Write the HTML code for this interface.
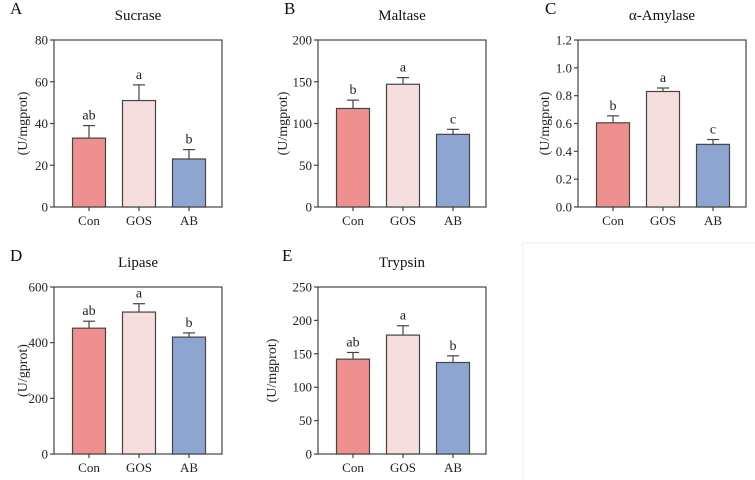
<!DOCTYPE html>
<html><head><meta charset="utf-8"><style>
html,body{margin:0;padding:0;background:#fff;}
svg{display:block;font-family:"Liberation Serif",serif;}
</style></head><body>
<svg id="c" width="755" height="480" viewBox="0 0 755 480" xmlns="http://www.w3.org/2000/svg">
<rect x="523" y="243" width="240" height="250" fill="none" stroke="#eeeeee" stroke-width="1"/>
</svg>
<script>
const categories = ["Con","GOS","AB"];
const sucraseVals = [33, 51, 23];
const sucraseErr = [6, 7.5, 4.5];
const sucraseSig = ["ab","a","b"];
const maltaseVals = [118, 147, 87];
const maltaseErr = [10, 8, 6];
const maltaseSig = ["b","a","c"];
const amylaseVals = [0.605, 0.83, 0.45];
const amylaseErr = [0.05, 0.025, 0.035];
const amylaseSig = ["b","a","c"];
const lipaseVals = [452, 510, 420];
const lipaseErr = [25, 30, 15];
const lipaseSig = ["ab","a","b"];
const trypsinVals = [142, 178, 137];
const trypsinErr = [10, 14, 10];
const trypsinSig = ["ab","a","b"];
const sucraseTicks = [0,20,40,60,80];
const maltaseTicks = [0,50,100,150,200];
const amylaseTicks = ["0.0","0.2","0.4","0.6","0.8","1.0","1.2"];
const lipaseTicks = [0,200,400,600];
const trypsinTicks = [0,50,100,150,200,250];

const NS="http://www.w3.org/2000/svg";
const svg=document.getElementById('c');
const colors=["#ef9090","#f6dede","#8fa5d1"];
function mk(tag,attrs,parent){const e=document.createElementNS(NS,tag);for(const k in attrs)e.setAttribute(k,attrs[k]);(parent||svg).appendChild(e);return e;}
function txt(s,attrs,parent){const e=mk('text',attrs,parent);e.textContent=s;return e;}

function panel(cfg){
  const g=mk('g',{});
  
  
  const L=cfg.x,T=cfg.y,W=168,H=167,B=T+H;
  const ticks=cfg.ticks.map(Number);
  const max=ticks[ticks.length-1];
  const ys=v=>B-v/max*H;
  const xs=i=>L+35+i*50;
  const lt=txt(cfg.letter,{x:cfg.lx,y:T-26,'font-size':17,fill:'#111'},g);
  
  
  const tt=txt(cfg.title,{x:L+W/2,y:T-20,'font-size':15,'text-anchor':'middle',fill:'#111'},g);
  
  
  const fr=mk('rect',{x:L,y:T,width:W,height:H,fill:'none',stroke:'#444','stroke-width':1.2},g);
  
  
  cfg.ticks.forEach(t=>{
    const y=ys(Number(t));
    mk('line',{x1:L-4,x2:L,y1:y,y2:y,stroke:'#444','stroke-width':1.2},g);
    const tl=txt(String(t),{x:L-6,y:y+4.5,'font-size':13,'text-anchor':'end',fill:'#222'},g);
    
    
  });
  const yl=txt(cfg.ylabel,{x:0,y:0,'font-size':14,'text-anchor':'middle',fill:'#222',transform:`translate(${cfg.ylx},${T+H/2}) rotate(-90)`},g);
  
  
  categories.forEach((c,i)=>{
    const cx=xs(i),v=cfg.vals[i],e=cfg.err[i];
    const top=ys(v),et=ys(v+e);
    const ln=mk('line',{x1:cx,x2:cx,y1:top,y2:et,stroke:'#444','stroke-width':1.2},g);
    
    
    mk('line',{x1:cx-6,x2:cx+6,y1:et,y2:et,stroke:'#444','stroke-width':1.2},g);
    const r=mk('rect',{x:cx-16.5,y:top,width:33,height:B-top,fill:colors[i],stroke:'#444','stroke-width':1.2},g);
    
    
    const s=txt(cfg.sig[i],{x:cx,y:et-6,'font-size':14,'text-anchor':'middle',fill:'#222'},g);
    
    
    mk('line',{x1:cx,x2:cx,y1:B,y2:B+4,stroke:'#444','stroke-width':1.2},g);
    const xl=txt(c,{x:cx,y:B+18,'font-size':13,'text-anchor':'middle',fill:'#222'},g);
    
    
  });
}
panel({id:'sucrase',letter:'A',title:'Sucrase',x:54,y:40,lx:10,ylx:27,ylabel:'(U/mgprot)',ticks:sucraseTicks,vals:sucraseVals,err:sucraseErr,sig:sucraseSig});
panel({id:'maltase',letter:'B',title:'Maltase',x:318,y:40,lx:284,ylx:287,ylabel:'(U/mgprot)',ticks:maltaseTicks,vals:maltaseVals,err:maltaseErr,sig:maltaseSig});
panel({id:'amylase',letter:'C',title:'α-Amylase',x:578,y:40,lx:545,ylx:549,ylabel:'(U/mgprot)',ticks:amylaseTicks,vals:amylaseVals,err:amylaseErr,sig:amylaseSig});
panel({id:'lipase',letter:'D',title:'Lipase',x:54,y:287,lx:10,ylx:27,ylabel:'(U/gprot)',ticks:lipaseTicks,vals:lipaseVals,err:lipaseErr,sig:lipaseSig});
panel({id:'trypsin',letter:'E',title:'Trypsin',x:318,y:287,lx:282,ylx:276,ylabel:'(U/mgprot)',ticks:trypsinTicks,vals:trypsinVals,err:trypsinErr,sig:trypsinSig});
</script>
</body></html>
